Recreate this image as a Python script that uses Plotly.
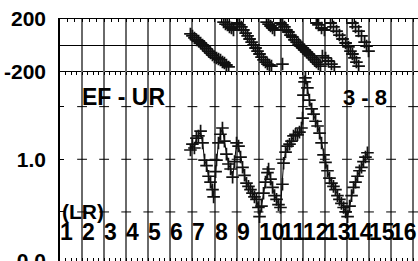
import plotly.graph_objects as go

# ---------------- data ----------------
# bottom panel: amplitude ratio vs column position
amp_x = [5.91, 6.00, 6.09, 6.18, 6.27, 6.37, 6.46, 6.55, 6.64, 6.73, 6.82, 6.91, 6.96,
         7.05, 7.09, 7.18, 7.27, 7.36, 7.45, 7.54, 7.63, 7.73, 7.82, 7.91, 8.00, 8.09,
         8.18, 8.27, 8.36, 8.45, 8.54, 8.63, 8.72, 8.81, 8.90, 8.99, 9.04, 9.13, 9.22,
         9.31, 9.40, 9.45, 9.54, 9.63, 9.72, 9.81, 9.90, 9.99, 10.08, 10.13, 10.22, 10.31,
         10.40, 10.49, 10.58, 10.67, 10.76, 10.85, 10.94, 10.99, 11.03, 11.08, 11.12, 11.21,
         11.30, 11.40, 11.49, 11.58, 11.67, 11.76, 11.85, 11.94, 12.03, 12.12, 12.21, 12.30,
         12.39, 12.48, 12.57, 12.66, 12.75, 12.85, 12.94, 13.03, 13.12, 13.21, 13.30, 13.39,
         13.48, 13.57, 13.66, 13.75, 13.84, 13.93]
amp_y = [1.13, 1.22, 1.16, 1.32, 1.36, 1.45, 1.24, 0.99, 0.92, 0.80, 0.74, 0.67, 0.61,
         0.85, 0.99, 1.24, 1.39, 1.51, 1.27, 1.07, 0.94, 0.88, 0.79, 0.97, 1.24, 1.19,
         1.03, 0.90, 0.81, 0.73, 0.70, 0.67, 0.64, 0.61, 0.59, 0.53, 0.47, 0.54, 0.64,
         0.74, 0.84, 0.88, 0.77, 0.69, 0.62, 0.59, 0.55, 0.53, 0.72, 0.95, 1.10, 1.19,
         1.22, 1.27, 1.36, 1.39, 1.38, 1.43, 1.51, 1.72, 2.33, 2.77, 2.92, 2.56,
         2.18, 1.94, 1.81, 1.65, 1.55, 1.41, 1.24, 1.06, 0.96, 0.86, 0.78, 0.73,
         0.70, 0.67, 0.62, 0.59, 0.56, 0.53, 0.50, 0.47, 0.54, 0.62, 0.69, 0.74,
         0.80, 0.86, 0.90, 0.97, 1.03, 1.09]

# top panel: phase (degrees) vs column position
ph_x = [5.91, 6.00, 6.09, 6.19, 6.28, 6.37, 6.46, 6.55, 6.64, 6.73, 6.82, 6.91, 7.00,
        7.09, 7.18, 7.27, 7.36, 7.45, 7.54, 7.64,
        7.41, 7.50, 7.59, 7.68, 7.77, 7.86,
        8.04, 8.13, 8.22, 8.31, 8.41, 8.50, 8.59, 8.68, 8.77, 8.86, 8.95, 9.04, 9.13,
        9.22, 9.31, 9.40, 9.49, 9.58,
        9.36, 9.45, 9.54, 9.63, 9.72,
        10.08,
        9.99, 10.08, 10.17, 10.26, 10.35, 10.44, 10.53, 10.62, 10.72, 10.81, 10.90,
        10.99, 11.08, 11.17, 11.26, 11.35, 11.44, 11.53, 11.62, 11.71, 11.80,
        11.62, 11.71, 11.85, 11.98,
        11.89, 12.03, 12.16, 12.30, 12.43,
        12.26, 12.39, 12.53, 12.66, 12.80, 12.94, 13.07, 13.16, 13.25, 13.34, 13.43, 13.53,
        13.25, 13.39, 13.53, 13.66, 13.80, 13.89, 13.98]
ph_y = [87, 72, 57, 42, 34, 19, 4, -11, -26, -42, -57, -72, -87,
        -94, -102, -109, -125, -132, -147, -162,
        177, 162, 155, 140, 132, 117,
        170, 155, 140, 117, 94, 72, 49, 26, 4, -19, -42, -64, -87,
        -109, -125, -140, -147, -155,
        177, 162, 147, 132, 117,
        -140,
        170, 155, 140, 117, 102, 79, 64, 42, 26, 11, -4,
        -19, -34, -49, -64, -79, -94, -109, -125, -140, -155,
        170, 155, 132, 117,
        -79, -94, -117, -140, -162,
        170, 140, 109, 79, 49, 19, -11, -42, -64, -94, -125, -155,
        170, 140, 109, 72, 26, -4, -42]

col_labels = ["1", "2", "3", "4", "5", "6", "7", "8", "9", "10",
              "11", "12", "13", "14", "15", "16"]
grid_cols = list(range(1, 17))
amp_ticks = [0.5, 1.0, 2.0]
amp_bottom = 0.2625
phase_ticks = [-200, 200]

FONT = "Liberation Sans, Arial, sans-serif"

fig = go.Figure()

# small horizontal tick crosses on each vertical grid line (bottom panel)
cx, cy = [], []
for t in amp_ticks:
    for c in grid_cols:
        cx.append(c)
        cy.append(t)
fig.add_trace(go.Scatter(x=cx, y=cy, mode="markers", xaxis="x", yaxis="y",
                         marker=dict(symbol="line-ew", size=7,
                                     line=dict(color="black", width=1)),
                         hoverinfo="skip", showlegend=False))

fig.add_trace(go.Scatter(x=amp_x, y=amp_y, mode="lines+markers", xaxis="x", yaxis="y",
                         line=dict(color="black", width=1),
                         marker=dict(symbol="cross-thin", size=9,
                                     line=dict(color="#111111", width=1.7)),
                         showlegend=False))

fig.add_trace(go.Scatter(x=ph_x, y=ph_y, mode="markers", xaxis="x2", yaxis="y2",
                         marker=dict(symbol="cross-thin", size=9,
                                     line=dict(color="#111111", width=1.8)),
                         showlegend=False))

xr = [0, 16.22]
split = 189 / 242

fig.update_layout(
    width=418, height=261,
    margin=dict(l=60, r=0, t=19, b=0, autoexpand=False),
    paper_bgcolor="white", plot_bgcolor="white",
    font=dict(family=FONT, color="black"),
    xaxis=dict(domain=[0, 1], range=xr, anchor="y", automargin=False,
               showgrid=True, dtick=1, tick0=0, gridcolor="#6a6a6a", gridwidth=1.5,
               showline=True, linecolor="black", linewidth=1, mirror="ticks",
               ticks="inside", ticklen=3, tickcolor="black",
               minor=dict(dtick=0.25, ticks="inside", ticklen=3, tickcolor="black",
                          showgrid=False),
               showticklabels=False, zeroline=False),
    xaxis2=dict(domain=[0, 1], range=xr, anchor="y2", side="top", automargin=False,
                showgrid=True, dtick=1, tick0=0, gridcolor="#6a6a6a", gridwidth=1.5,
                showline=True, linecolor="black", linewidth=1,
                ticks="inside", ticklen=3, tickcolor="black",
                minor=dict(dtick=1/3, ticks="inside", ticklen=3, tickcolor="black",
                           showgrid=False),
                showticklabels=False, zeroline=False),
    yaxis=dict(domain=[0, split], type="log", range=[-0.5815, 0.499], automargin=False,
               tickvals=[amp_bottom] + amp_ticks, ticktext=["0.0", "", "1.0", ""],
               ticks="inside", ticklen=4, tickcolor="black",
               showline=True, linecolor="black", linewidth=1.5,
               showgrid=False, zeroline=False, ticklabelstandoff=8,
               ticklabeloverflow="allow",
               tickfont=dict(size=21, family=FONT, color="black", weight="bold")),
    yaxis2=dict(domain=[split, 1], range=[-200, 200], automargin=False,
                tickvals=phase_ticks, ticktext=["-200", "200"],
                ticks="", showline=True, linecolor="black", linewidth=1.5,
                showgrid=False, zeroline=True, zerolinecolor="black", zerolinewidth=1,
                ticklabelstandoff=8, ticklabeloverflow="allow",
                tickfont=dict(size=21, family=FONT, color="black", weight="bold")),
)

XS = -2
annots = []
annots.append(dict(text="EF - UR", x=1.0, y=0.678, xref="x", yref="paper", xshift=XS,
                   xanchor="left", yanchor="middle", showarrow=False,
                   font=dict(size=23, family=FONT, color="black", weight="bold")))
annots.append(dict(text="3 - 8", x=12.82, y=0.676, xref="x", yref="paper", xshift=XS,
                   xanchor="left", yanchor="middle", showarrow=False,
                   font=dict(size=22, family=FONT, color="black", weight="bold")))
annots.append(dict(text="(LR)", x=0.08, y=0.2045, xref="x", yref="paper", xshift=XS,
                   xanchor="left", yanchor="middle", showarrow=False,
                   font=dict(size=21, family=FONT, color="black", weight="bold")))
for i, lab in enumerate(col_labels):
    annots.append(dict(text=lab, x=i, y=0.121, xref="x", yref="paper", xshift=XS,
                       xanchor="left", yanchor="middle", showarrow=False,
                       font=dict(size=23, family=FONT, color="black", weight="bold")))
fig.update_layout(annotations=annots)

fig.write_html("out.html", config={"displayModeBar": False},
               post_script="document.body.style.margin='0';document.body.style.overflow='hidden';")
